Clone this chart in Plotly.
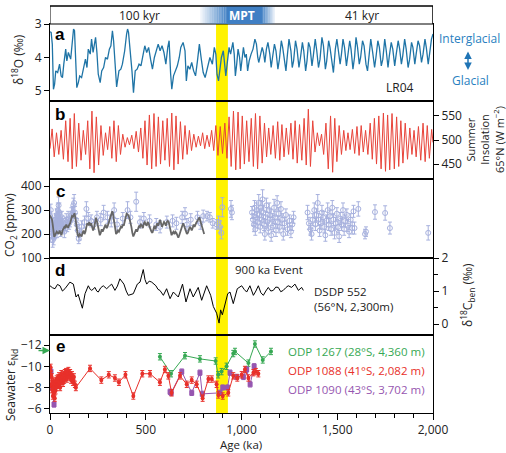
import plotly.graph_objects as go

# ---------------- DATA ----------------
# (a) LR04 benthic d18O stack
lr04_age = [0, 6, 12, 18, 24, 30, 40, 50, 58, 65, 72, 82, 88, 96, 108, 115, 123, 128, 135, 140,
            148, 155, 165, 175, 185, 193, 200, 210, 217, 225, 238, 245, 252, 262, 270, 280, 290, 300, 310, 318,
            326, 332, 340, 348, 360, 370, 378, 390, 400, 405, 410, 420, 428, 436, 445, 455, 465, 475, 485, 495,
            505, 515, 525, 535, 545, 555, 565, 575, 585, 595, 605, 615, 622, 630, 636, 645, 655, 665, 675, 683,
            695, 705, 712, 720, 730, 740, 750, 760, 770, 780, 790, 800, 810, 820, 835, 848, 858, 866, 872, 880,
            888, 895, 905, 912, 918, 925, 935, 943, 955, 962, 968, 975, 982, 990, 996, 1004, 1010, 1018, 1025, 1032,
            1040, 1050, 1060, 1070, 1078, 1085, 1090, 1100, 1108, 1115, 1122, 1130, 1138, 1148, 1155, 1162, 1172, 1180, 1190, 1198,
            1208, 1215, 1225, 1232, 1240, 1248, 1258, 1265, 1272, 1282, 1290, 1300, 1308, 1318, 1325, 1335, 1342, 1350, 1358, 1368,
            1375, 1385, 1393, 1402, 1410, 1420, 1428, 1438, 1445, 1455, 1462, 1472, 1480, 1490, 1498, 1506, 1515, 1522, 1530, 1538,
            1548, 1555, 1565, 1572, 1582, 1590, 1598, 1606, 1615, 1622, 1632, 1640, 1650, 1658, 1668, 1675, 1685, 1695, 1702, 1712,
            1720, 1730, 1738, 1748, 1756, 1765, 1772, 1782, 1790, 1800, 1808, 1818, 1826, 1835, 1842, 1852, 1860, 1870, 1878, 1888,
            1895, 1905, 1912, 1922, 1930, 1940, 1948, 1958, 1965, 1975, 1982, 1992, 2000]
lr04_d18o = [3.23, 3.25, 3.6, 4.95, 4.8, 4.4, 4.45, 4.2, 4.55, 4.6, 4.2, 3.75, 4.1, 3.85, 4.05, 3.6, 3.15, 3.2, 4.3, 4.9,
             4.75, 4.55, 4.6, 4.3, 4.05, 4.3, 3.75, 3.9, 3.45, 3.85, 3.4, 3.85, 4.5, 4.75, 4.4, 4.3, 4.0, 4.05, 3.75, 3.65,
             3.2, 3.5, 4.3, 4.88, 4.4, 4.35, 4.2, 3.8, 3.3, 3.15, 3.25, 3.8, 4.4, 5.05, 4.4, 4.35, 4.2, 4.25, 3.9, 3.65,
             3.85, 3.7, 4.05, 4.35, 4.0, 3.8, 3.6, 3.8, 3.65, 3.85, 4.2, 3.7, 3.5, 4.5, 4.95, 4.55, 4.4, 4.25, 4.0, 3.7,
             3.55, 3.8, 4.7, 4.25, 4.35, 4.15, 4.4, 4.55, 4.1, 3.6, 4.05, 4.45, 4.6, 4.35, 4.0, 4.2, 3.7, 3.9, 4.5, 4.7,
             4.4, 4.0, 3.8, 4.2, 4.55, 4.2, 3.7, 3.9, 3.55, 3.9, 4.55, 4.2, 3.75, 4.0, 4.4, 4.0, 3.7, 4.0, 3.9, 4.4,
             4.1, 3.9, 3.75, 3.45, 3.6, 4.0, 4.15, 3.9, 3.7, 3.85, 4.15, 3.75, 3.55, 3.9, 4.3, 4.0, 3.6, 3.8, 4.35, 4.05,
             3.5, 3.7, 4.2, 4.4, 3.9, 3.45, 3.8, 4.3, 4.1, 3.5, 3.75, 4.3, 4.0, 3.55, 3.8, 4.4, 4.1, 3.55, 3.7, 4.25,
             3.95, 3.45, 3.8, 4.3, 4.05, 3.4, 3.65, 4.35, 4.1, 3.5, 3.7, 4.2, 4.45, 3.75, 3.45, 3.8, 4.2, 3.9, 3.45, 3.7,
             4.25, 3.95, 3.5, 3.75, 4.35, 4.0, 3.4, 3.7, 4.2, 4.0, 3.5, 3.65, 4.2, 4.4, 3.8, 3.45, 3.85, 4.3, 4.0, 3.5,
             3.7, 4.25, 4.05, 3.45, 3.8, 4.3, 3.95, 3.55, 3.75, 4.25, 3.9, 3.5, 3.75, 4.2, 3.95, 3.45, 3.75, 4.3, 4.05, 3.55,
             3.7, 4.2, 3.9, 3.5, 3.65, 4.15, 3.9, 3.45, 3.7, 4.2, 3.9, 3.45, 3.3]

# (b) Summer insolation 65N (W m-2), successive precession extremes
ins_age = [0, 11, 22, 34, 46, 58, 70, 82, 94, 105,
           116, 127, 138, 150, 162, 174, 186, 197, 208, 219,
           230, 242, 254, 266, 278, 290, 301, 312, 323, 334,
           346, 357, 368, 380, 392, 404, 415, 427, 438, 450,
           462, 474, 485, 496, 507, 519, 531, 543, 554, 566,
           577, 589, 600, 612, 624, 636, 647, 658, 669, 681,
           693, 705, 716, 728, 739, 751, 763, 775, 786, 797,
           808, 820, 832, 844, 855, 866, 877, 889, 901, 913,
           924, 935, 946, 958, 970, 982, 993, 1004, 1015, 1027,
           1039, 1051, 1062, 1073, 1084, 1096, 1108, 1120, 1131, 1142,
           1153, 1165, 1177, 1189, 1200, 1211, 1222, 1234, 1246, 1258,
           1269, 1280, 1291, 1303, 1315, 1327, 1338, 1349, 1360, 1372,
           1384, 1396, 1407, 1418, 1429, 1441, 1453, 1465, 1476, 1487,
           1498, 1510, 1522, 1534, 1545, 1556, 1567, 1579, 1591, 1603,
           1614, 1625, 1636, 1648, 1660, 1672, 1683, 1694, 1705, 1717,
           1729, 1741, 1752, 1763, 1774, 1786, 1798, 1810, 1821, 1832,
           1843, 1855, 1867, 1879, 1890, 1901, 1912, 1924, 1936, 1948,
           1959, 1970, 1981, 1993, 2000]
ins_val = [482, 523, 465, 515, 470, 520, 460, 540, 455, 545,
           440, 555, 445, 535, 458, 520, 470, 540, 440, 560,
           432, 548, 448, 530, 468, 515, 480, 528, 462, 540,
           455, 530, 470, 512, 485, 505, 490, 510, 482, 518,
           475, 525, 462, 540, 448, 552, 440, 555, 445, 548,
           450, 540, 458, 545, 445, 556, 438, 550, 450, 538,
           460, 530, 470, 520, 478, 512, 485, 508, 488, 515,
           482, 510, 486, 520, 478, 530, 468, 528, 472, 535,
           462, 548, 445, 560, 438, 558, 440, 550, 450, 540,
           455, 545, 445, 555, 440, 550, 452, 535, 465, 525,
           470, 530, 462, 538, 458, 532, 465, 525, 470, 535,
           460, 540, 452, 532, 458, 545, 448, 564, 445, 540,
           475, 515, 488, 512, 470, 535, 440, 550, 433, 545,
           455, 530, 470, 520, 478, 515, 480, 522, 472, 528,
           468, 530, 475, 520, 470, 535, 460, 545, 450, 550,
           440, 556, 435, 552, 438, 555, 440, 548, 445, 540,
           452, 535, 460, 525, 470, 520, 465, 528, 458, 535,
           455, 530, 462, 522, 495]

# (c) CO2: ice-core record (line)
ice_age = [0, 5, 10, 14, 18, 22, 26, 30, 35, 40, 45, 50, 55, 60, 65, 70, 75, 80, 85, 90,
           95, 100, 105, 110, 115, 120, 125, 128, 132, 136, 140, 145, 150, 155, 160, 165, 170, 175, 180, 185,
           190, 195, 200, 205, 210, 215, 220, 225, 230, 235, 240, 245, 250, 255, 260, 265, 270, 275, 280, 285,
           290, 295, 300, 305, 310, 315, 320, 325, 328, 332, 336, 340, 345, 350, 355, 360, 365, 370, 375, 380,
           385, 390, 395, 400, 405, 410, 415, 420, 425, 430, 435, 440, 445, 450, 455, 460, 465, 470, 475, 480,
           485, 490, 495, 500, 505, 510, 515, 520, 525, 530, 535, 540, 545, 550, 555, 560, 565, 570, 575, 580,
           585, 590, 595, 600, 605, 610, 615, 620, 625, 630, 635, 640, 645, 650, 655, 660, 665, 670, 675, 680,
           685, 690, 695, 700, 705, 710, 715, 720, 725, 730, 735, 740, 745, 750, 755, 760, 765, 770, 775, 780,
           785, 790, 795, 800, 805]
ice_co2 = [278, 265, 262, 240, 190, 188, 195, 205, 210, 205, 200, 215, 205, 195, 215, 225, 230, 225, 240, 230,
           228, 238, 245, 260, 275, 272, 285, 287, 270, 245, 215, 195, 190, 200, 195, 190, 205, 215, 200, 210,
           230, 245, 240, 250, 235, 245, 230, 215, 225, 250, 268, 255, 235, 215, 195, 205, 220, 210, 225, 230,
           240, 225, 230, 245, 255, 265, 280, 295, 290, 270, 250, 225, 200, 205, 215, 210, 220, 230, 225, 240,
           235, 250, 270, 285, 282, 278, 265, 250, 230, 205, 190, 200, 215, 220, 210, 225, 235, 230, 240, 235,
           225, 245, 250, 240, 235, 250, 245, 230, 215, 210, 205, 225, 235, 220, 230, 245, 235, 250, 260, 245,
           230, 240, 250, 245, 235, 250, 255, 250, 230, 200, 195, 205, 210, 200, 210, 205, 195, 185, 195, 210,
           225, 240, 245, 235, 225, 215, 200, 205, 220, 230, 225, 215, 225, 240, 230, 245, 250, 255, 260, 270,
           255, 240, 220, 205, 200]

# (c) CO2: boron-isotope estimates (circles with error bars)
b_age = [1, 3, 4, 6, 8, 10, 12, 14, 15, 17, 19, 21, 23, 25, 27, 29, 31, 33, 35, 37,
         39, 41, 43, 45, 47, 49, 51, 53, 55, 58, 62, 66, 70, 75, 80, 85, 90, 95, 100, 105,
         112, 118, 122, 126, 130, 135, 140, 145, 150, 155,
         165, 180, 190, 200, 215, 230, 245, 265, 280, 300, 320, 335, 350, 380, 405, 420, 450, 470, 490, 520,
         555, 575, 610, 640, 660, 690, 705, 715, 735, 770, 785, 800,
         820, 835, 850, 870, 880, 888, 895, 900, 945, 950,
         1055, 1060, 1065, 1068, 1072, 1076, 1080, 1085, 1090, 1094, 1098, 1102, 1106, 1110, 1114, 1118, 1122, 1126, 1130, 1135,
         1140, 1145, 1150, 1155, 1160, 1165, 1170, 1175, 1180, 1186, 1190, 1195, 1200, 1206, 1212, 1218, 1224, 1232, 1240, 1250,
         1258, 1265, 1272,
         1345, 1352, 1360, 1366, 1372, 1380, 1386, 1392, 1398, 1402, 1408, 1414, 1420, 1426, 1432, 1438, 1444, 1450, 1456, 1462,
         1468, 1474, 1480, 1486, 1492, 1498, 1504, 1510, 1516, 1522, 1530, 1536, 1542, 1550, 1556, 1562, 1570, 1578,
         1585, 1590, 1610, 1645, 1650, 1697, 1750, 1775, 1975]
b_co2 = [275, 260, 300, 240, 210, 230, 190, 175, 230, 210, 185, 200, 240, 220, 205, 260, 230, 250, 280, 210,
         240, 300, 270, 320, 250, 290, 230, 260, 215, 240, 270, 250, 230, 210, 240, 260, 235, 265, 245, 255,
         280, 290, 320, 330, 290, 260, 240, 215, 180, 200,
         230, 250, 305, 265, 255, 240, 270, 260, 290, 270, 255, 300, 240, 265, 300, 270, 335, 250, 265, 255,
         240, 230, 250, 255, 245, 270, 285, 240, 260, 270, 245, 275,
         275, 270, 245, 240, 250, 230, 205, 312, 305, 290,
         290, 260, 240, 310, 220, 270, 300, 250, 330, 280, 230, 310, 260, 345, 290, 240, 200, 270, 320, 250,
         225, 300, 280, 195, 260, 235, 310, 270, 215, 330, 250, 285, 230, 305, 260, 200, 245, 280, 220, 255,
         210, 240, 270,
         290, 245, 220, 200, 260, 300, 240, 280, 330, 260, 215, 245, 290, 270, 230, 195, 255, 300, 240, 275,
         220, 310, 260, 205, 245, 285, 230, 190, 265, 240, 300, 220, 255, 280, 235, 210, 260, 225,
         295, 225, 305, 200, 210, 292, 288, 225, 205]
b_err = [20, 25, 25, 20, 25, 20, 25, 30, 25, 25, 30, 25, 30, 25, 25, 25, 20, 30, 25, 25,
         25, 30, 25, 35, 25, 40, 25, 30, 25, 25, 25, 25, 25, 25, 25, 25, 25, 30, 25, 25,
         30, 25, 30, 35, 25, 25, 25, 25, 20, 25,
         25, 25, 30, 25, 25, 20, 25, 25, 30, 25, 25, 30, 25, 25, 35, 25, 40, 25, 25, 25,
         25, 25, 25, 25, 25, 25, 25, 25, 25, 25, 25, 25,
         20, 20, 20, 20, 25, 25, 25, 40, 35, 30,
         25, 25, 30, 30, 25, 25, 30, 25, 35, 25, 25, 30, 25, 40, 30, 25, 25, 25, 30, 25,
         25, 30, 25, 25, 25, 25, 35, 25, 25, 30, 25, 25, 25, 30, 25, 25, 25, 25, 25, 25,
         25, 25, 25,
         30, 25, 25, 25, 25, 30, 25, 25, 35, 25, 25, 25, 30, 25, 25, 25, 25, 30, 25, 25,
         25, 30, 25, 25, 25, 25, 25, 25, 25, 25, 30, 25, 25, 25, 25, 25, 25, 25,
         25, 25, 30, 20, 20, 30, 30, 25, 30]

# (d) DSDP 552 benthic carbon isotope record
dsdp_age = [0, 13, 26, 39, 52, 65, 78, 91, 104, 122, 136, 147, 157, 169, 183, 200, 210, 218, 235, 244,
            252, 265, 278, 296, 310, 322, 339, 352, 365, 386, 398, 409, 435, 445, 456, 470, 487, 496, 505, 518,
            531, 553, 564, 574, 592, 609, 627, 644, 656, 670, 692, 710, 731, 748, 774, 792, 818, 839, 853, 870,
            883, 891, 900, 914, 928, 940, 957, 978, 1001, 1014, 1027, 1044, 1062, 1075, 1088, 1101, 1114, 1127, 1140, 1153,
            1166, 1179, 1192, 1205, 1218, 1231, 1244, 1262, 1279, 1297, 1314, 1323]
dsdp_d13c = [1.16, 1.1, 1.07, 1.2, 1.16, 1.0, 1.07, 1.18, 1.27, 1.21, 0.82, 0.9, 0.67, 0.48, 0.92, 1.16, 1.05, 1.02, 1.11, 1.0,
             0.97, 1.1, 1.16, 1.07, 1.15, 1.21, 1.02, 1.15, 1.37, 1.21, 1.0, 0.87, 0.92, 1.05, 1.21, 1.27, 1.65, 1.35, 1.21, 1.3,
             1.27, 1.16, 1.05, 1.02, 0.87, 1.07, 0.77, 0.97, 0.9, 0.82, 1.21, 0.67, 1.07, 0.82, 1.11, 0.72, 1.16, 0.87, 0.53, 0.33,
             0.03, 0.43, 0.28, 0.62, 0.92, 0.97, 0.62, 1.07, 1.16, 1.05, 0.97, 1.16, 0.87, 1.0, 1.16, 0.95, 0.87, 1.0, 1.11, 1.0,
             1.02, 1.12, 1.11, 0.98, 1.02, 1.1, 1.16, 1.11, 1.21, 1.02, 1.11, 1.02]

# (e) Seawater eps-Nd
odp1088_age = [1, 3, 5, 7, 9, 11, 13, 15, 17, 19, 21, 23, 25, 27, 29, 31, 33, 35, 38, 41,
               44, 47, 50, 53, 56, 59, 62, 65, 68, 71, 74, 77, 80, 84, 88, 92, 96, 100, 105, 110,
               115, 120, 125, 130, 135, 209, 268, 307, 339, 360, 394, 435, 482, 522, 574, 600, 618, 635, 679, 714,
               740, 766, 797, 827, 845, 870, 879, 902, 931, 957, 978, 1001, 1018, 1036, 1062, 1075, 1088]
odp1088_end = [-9.6, -9.9, -9.2, -8.3, -9.0, -7.8, -8.4, -7.2, -7.9, -8.6, -7.5, -8.1, -7.0, -8.3, -7.7, -8.6, -8.0, -8.8, -8.2, -8.9,
               -8.3, -9.1, -8.5, -8.0, -8.8, -9.3, -8.6, -9.0, -8.4, -9.2, -8.7, -9.4, -8.9, -9.5, -8.8, -9.3, -9.6, -9.0, -9.4, -8.7,
               -9.2, -8.5, -9.0, -8.3, -8.0, -9.8, -8.7, -9.2, -8.9, -8.5, -9.2, -7.2, -9.3, -9.3, -8.5, -9.7, -9.1, -7.5, -9.1, -8.3,
               -8.7, -8.3, -7.0, -8.8, -8.8, -8.3, -7.3, -7.2, -7.5, -9.1, -8.9, -9.2, -9.7, -8.9, -9.4, -9.5, -9.3]
odp1090_age = [5, 10, 21, 627, 633, 688, 740, 783, 795, 888, 902, 927, 940, 975, 1010, 1027, 1045, 1066]
odp1090_end = [-9.5, -8.0, -6.4, -7.6, -7.5, -9.5, -7.5, -9.4, -7.4, -7.5, -8.0, -8.0, -9.4, -9.0, -9.0, -9.7, -8.3, -10.0]
odp1267_age = [574, 632, 705, 783, 865, 878, 896, 922, 957, 966, 1036, 1070, 1111, 1154]
odp1267_end = [-10.9, -9.3, -11.0, -10.7, -10.5, -9.2, -9.5, -10.0, -11.2, -11.4, -10.3, -12.1, -10.6, -11.4]
modern_1267 = -11.5

mpt_start, mpt_end = 867, 929
xtick_vals = [0, 500, 1000, 1500, 2000]
xtick_text = ["0", "500", "1,000", "1,500", "2,000"]

# ---------------- LAYOUT HELPERS ----------------
W, H = 506, 453
L, R, T, B = 50, 433, 24, 413


def px(xp):
    return (xp - L) / (R - L)


def py(yp):
    return (B - yp) / (B - T)


def segments(xs, ys, gap=300):
    """split a record where the sampling has a long hiatus"""
    out, cx, cy = [], [xs[0]], [ys[0]]
    for a, b, c in zip(xs[:-1], xs[1:], ys[1:]):
        if b - a > gap:
            out.append((cx, cy))
            cx, cy = [], []
        cx.append(b)
        cy.append(c)
    out.append((cx, cy))
    return out


FONT = "Open Sans"
BLUE = "#1f74a6"
RED = "#e8443a"
GREEN = "#36a853"
RED2 = "#e8302a"
PURPLE = "#9656b0"
CIRC = "#a7b1de"

fig = go.Figure()

fig.add_trace(go.Scatter(x=lr04_age, y=lr04_d18o, mode="lines", line=dict(color=BLUE, width=1.3),
                         xaxis="x", yaxis="y", showlegend=False))
fig.add_trace(go.Scatter(x=ins_age, y=ins_val, mode="lines", line=dict(color=RED, width=1),
                         xaxis="x2", yaxis="y2", showlegend=False))
fig.add_trace(go.Scatter(x=b_age, y=b_co2, mode="markers",
                         marker=dict(symbol="circle-open", size=5, color=CIRC, line=dict(width=1)),
                         error_y=dict(type="data", array=b_err, color=CIRC, thickness=1, width=2),
                         xaxis="x3", yaxis="y3", showlegend=False))
fig.add_trace(go.Scatter(x=ice_age, y=ice_co2, mode="lines", line=dict(color="#666666", width=1.8),
                         xaxis="x3", yaxis="y3", showlegend=False))
fig.add_trace(go.Scatter(x=dsdp_age, y=dsdp_d13c, mode="lines", line=dict(color="black", width=1),
                         xaxis="x4", yaxis="y4", showlegend=False))
fig.add_trace(go.Scatter(x=odp1267_age, y=odp1267_end, mode="lines+markers",
                         line=dict(color=GREEN, width=1), marker=dict(color=GREEN, size=4),
                         error_y=dict(type="constant", value=0.3, color=GREEN, thickness=1, width=2),
                         xaxis="x5", yaxis="y5", showlegend=False))
for sx, sy in segments(odp1090_age, odp1090_end):
    fig.add_trace(go.Scatter(x=sx, y=sy, mode="lines+markers",
                             line=dict(color=PURPLE, width=1), marker=dict(color=PURPLE, size=5, symbol="square"),
                             error_y=dict(type="constant", value=0.25, color=PURPLE, thickness=1, width=2),
                             xaxis="x5", yaxis="y5", showlegend=False))
fig.add_trace(go.Scatter(x=odp1088_age, y=odp1088_end, mode="lines+markers",
                         line=dict(color=RED2, width=1), marker=dict(color=RED2, size=4),
                         error_y=dict(type="constant", value=0.3, color=RED2, thickness=1, width=2),
                         error_x=dict(type="constant", value=4, color=RED2, thickness=1, width=2),
                         xaxis="x5", yaxis="y5", showlegend=False))

bounds = [T, 101, 179, 258, 335, B]
domains = [[py(bounds[i + 1]), py(bounds[i])] for i in range(5)]

axcommon = dict(showline=True, linecolor="black", linewidth=1, mirror=True, showgrid=False, zeroline=False,
                tickfont=dict(family=FONT, size=12, color="#222"), ticks="outside", ticklen=5, tickcolor="black")

layout = dict(width=W, height=H, margin=dict(l=L, r=W - R, t=T, b=H - B),
              paper_bgcolor="white", plot_bgcolor="white", font=dict(family=FONT, size=12, color="#222"),
              showlegend=False)

for i in range(1, 6):
    name = "xaxis" if i == 1 else f"xaxis{i}"
    xa = dict(axcommon, domain=[0, 1], range=[0, 2000], anchor="y" if i == 1 else f"y{i}")
    if i < 5:
        xa.update(matches="x5", showticklabels=False, ticks="")
    else:
        xa.update(tickvals=xtick_vals, ticktext=xtick_text, ticklen=6,
                  minor=dict(dtick=100, ticklen=4, ticks="outside", tickcolor="black"))
    layout[name] = xa

layout["yaxis"] = dict(axcommon, domain=domains[0], range=[5.3, 3.0], tickvals=[3, 4, 5], anchor="x")
layout["yaxis2"] = dict(axcommon, domain=domains[1], range=[419, 581], tickvals=[450, 500, 550], side="right", anchor="x2")
layout["yaxis3"] = dict(axcommon, domain=domains[2], range=[100, 430], tickvals=[100, 200, 300, 400], anchor="x3")
layout["yaxis4"] = dict(axcommon, domain=domains[3], range=[-0.33, 2.0], tickvals=[0, 1, 2], side="right", anchor="x4",
                        minor=dict(tickvals=[0.5, 1.5], ticklen=4, ticks="outside", tickcolor="black"))
layout["yaxis5"] = dict(axcommon, domain=domains[4], range=[-5.6, -12.95], tickvals=[-12, -10, -8, -6],
                        ticktext=["\u221212", "\u221210", "\u22128", "\u22126"], anchor="x5")

shapes = []
# MPT yellow band
shapes.append(dict(type="rect", xref="x5", yref="paper", x0=mpt_start, x1=mpt_end, y0=0, y1=1,
                   fillcolor="#fff200", line=dict(width=0), layer="below"))
# top bar
ytop = py(6)
shapes.append(dict(type="rect", xref="x5", yref="paper", x0=0, x1=2000, y0=1, y1=ytop,
                   fillcolor="white", line=dict(color="black", width=1)))
# MPT gradient box
g0, g1, g2, g3 = 783, 924, 1107, 1175
n = 16
for k in range(n):
    a0 = g0 + (g1 - g0) * k / n
    a1 = g0 + (g1 - g0) * (k + 1) / n
    shapes.append(dict(type="rect", xref="x5", yref="paper", x0=a0, x1=a1, y0=1, y1=ytop,
                       fillcolor="#3f7fc4", opacity=(k + 1) / (n + 1), line=dict(width=0)))
shapes.append(dict(type="rect", xref="x5", yref="paper", x0=g1, x1=g2, y0=1, y1=ytop,
                   fillcolor="#3f7fc4", line=dict(width=0)))
m = 8
for k in range(m):
    a0 = g2 + (g3 - g2) * k / m
    a1 = g2 + (g3 - g2) * (k + 1) / m
    shapes.append(dict(type="rect", xref="x5", yref="paper", x0=a0, x1=a1, y0=1, y1=ytop,
                       fillcolor="#3f7fc4", opacity=1 - (k + 1) / (m + 1), line=dict(width=0)))
shapes.append(dict(type="line", xref="x5", yref="paper", x0=0, x1=2000, y0=ytop, y1=ytop,
                   line=dict(color="black", width=1)))
shapes.append(dict(type="line", xref="x5", yref="paper", x0=2000, x1=2000, y0=1, y1=ytop,
                   line=dict(color="black", width=1)))
layout["shapes"] = shapes

ann = []


def txt(x, y, s, size=12, color="#222", xanchor="center", bold=False, angle=0, family=FONT):
    ann.append(dict(x=px(x), y=py(y), xref="paper", yref="paper", text=f"<b>{s}</b>" if bold else s,
                    showarrow=False, xanchor=xanchor, yanchor="middle", textangle=angle,
                    font=dict(size=size, color=color, family=family)))


txt(139, 15, "100 kyr", 12)
txt(362, 15, "41 kyr", 12)
txt(242, 15, "MPT", 12, "white", bold=True)
for lab, yy in zip("abcde", [34, 115, 191, 270, 346]):
    txt(60, yy, lab, 17, "black", bold=True, family="Liberation Sans")
txt(400, 87, "LR04", 12)
txt(233, 269, "900 ka Event", 11.5, xanchor="left")
txt(312, 291, "DSDP 552", 11.5, xanchor="left")
txt(312, 306, "(56°N, 2,300m)", 11.5, xanchor="left")
txt(286, 351, "ODP 1267 (28°S, 4,360 m)", 11.5, GREEN, xanchor="left")
txt(286, 370, "ODP 1088 (41°S, 2,082 m)", 11.5, RED2, xanchor="left")
txt(286, 389, "ODP 1090 (43°S, 3,702 m)", 11.5, PURPLE, xanchor="left")
txt(469, 38, "Interglacial", 12, "#2a7fc0")
txt(470, 80, "Glacial", 12, "#2a7fc0")
txt(241, 444, "Age (ka)", 11.5)
# axis titles
txt(18, 60, "δ<sup>18</sup>O (‰)", 12, angle=-90)
txt(10, 225, "CO<sub>2</sub> (ppmv)", 12, angle=-90)
txt(11, 385, "Seawater ε<sub>Nd</sub>", 12, angle=-90)
txt(485, 140, "Summer<br>Insolation<br>65°N (W m<sup>−2</sup>)", 11, angle=-90)
txt(467, 295, "δ<sup>18</sup>C<sub>ben</sub> (‰)", 12, angle=-90)

# double-headed arrow interglacial / glacial
ann.append(dict(x=px(468), y=py(70), xref="paper", yref="paper", ax=0, ay=-20, axref="pixel", ayref="pixel",
                text="", showarrow=True, arrowhead=2, startarrowhead=2, arrowside="end+start",
                arrowsize=1, arrowwidth=1.5, arrowcolor="#1f74b5", startarrowsize=1))
# modern ODP 1267 value arrow
ann.append(dict(x=0, y=modern_1267, xref="x5", yref="y5", ax=-13, ay=0, axref="pixel", ayref="pixel",
                text="", showarrow=True, arrowhead=2, arrowsize=1, arrowwidth=1.5, arrowcolor=GREEN))
layout["annotations"] = ann

fig.update_layout(**layout)
fig.write_html("out.html")
